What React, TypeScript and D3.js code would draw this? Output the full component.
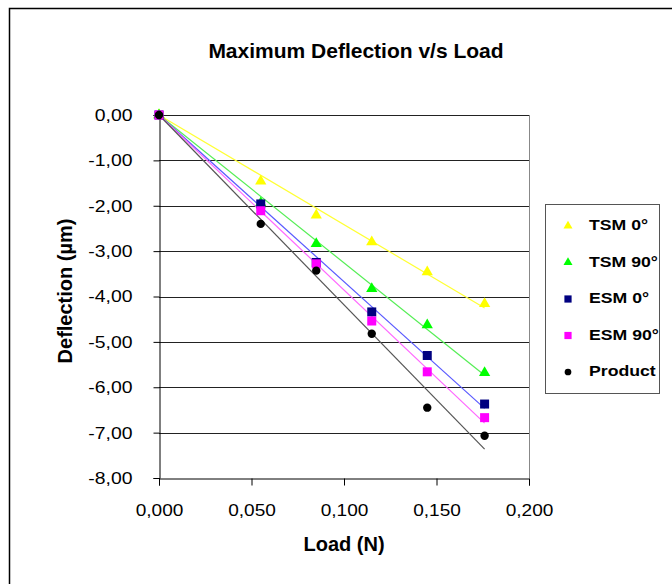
import React, { useEffect, useRef } from 'react'
import * as d3 from 'd3'

// loads (N) at which deflection was measured
const loads = [0, 0.055, 0.085, 0.115, 0.145, 0.176]

// deflection readings (µm) per specimen
const tsm0 = [0, -1.46, -2.21, -2.8, -3.46, -4.16]
const tsm90 = [0, -1.94, -2.84, -3.83, -4.63, -5.68]
const esm0 = [0, -1.96, -3.25, -4.34, -5.3, -6.37]
const esm90 = [0, -2.11, -3.28, -4.54, -5.66, -6.67]
const product = [0, -2.4, -3.43, -4.82, -6.45, -7.07]

const seriesNames = ['TSM 0°', 'TSM 90°', 'ESM 0°', 'ESM 90°', 'Product']
const xTicks = [0, 0.05, 0.1, 0.15, 0.2]
const yTicks = [0, -1, -2, -3, -4, -5, -6, -7, -8]

const FONT = 'Arial, "Liberation Sans", sans-serif'

// the original's text is a bit wider than Arial, stretch glyphs to match
function stretch(sel: any, k: number) {
  sel.each(function (this: SVGTextElement) {
    const w = this.getComputedTextLength()
    d3.select(this).attr('textLength', w * k).attr('lengthAdjust', 'spacingAndGlyphs')
  })
}

export default function App() {
  const svgRef = useRef<SVGSVGElement>(null)

  useEffect(() => {
    const svg = d3.select(svgRef.current)
    svg.selectAll('*').remove()

    const series = [
      { name: seriesNames[0], values: tsm0, fill: '#ffff00', line: '#ffff33', shape: 'tri' },
      { name: seriesNames[1], values: tsm90, fill: '#00ff00', line: '#55ee55', shape: 'tri' },
      { name: seriesNames[2], values: esm0, fill: '#000080', line: '#5a5aff', shape: 'sq' },
      { name: seriesNames[3], values: esm90, fill: '#ff00ff', line: '#ff66ff', shape: 'sq' },
      { name: seriesNames[4], values: product, fill: '#000000', line: '#555555', shape: 'dot' },
    ]

    // outer chart border (only top/left visible in frame)
    svg.append('rect')
      .attr('x', 9.5).attr('y', 8.5)
      .attr('width', 720).attr('height', 640)
      .attr('fill', 'white').attr('stroke', '#000').attr('stroke-width', 1.5)

    const x = d3.scaleLinear().domain([0, 0.2]).range([159, 529])
    const y = d3.scaleLinear().domain([0, -8]).range([115, 478])

    // gridlines
    svg.append('g').selectAll('line')
      .data(yTicks.slice(0, -1))
      .join('line')
      .attr('x1', x(0)).attr('x2', x(0.2))
      .attr('y1', d => Math.round(y(d)) + 0.5).attr('y2', d => Math.round(y(d)) + 0.5)
      .attr('stroke', '#222')

    // right border of plot area
    svg.append('line')
      .attr('x1', x(0.2) + 0.5).attr('x2', x(0.2) + 0.5)
      .attr('y1', y(0)).attr('y2', y(-8))
      .attr('stroke', '#888')

    const yAxis = d3.axisLeft(y)
      .tickValues(yTicks)
      .tickSize(6)
      .tickPadding(21)
      .tickFormat(d => d3.format('.2f')(d as number).replace('.', ',').replace('−', '-'))
    const gy = svg.append('g').attr('transform', `translate(${x(0) + 0.5},0)`).call(yAxis)
    gy.select('.domain').attr('stroke', '#000')
    gy.selectAll('text').attr('font-size', 17).attr('font-family', FONT).attr('fill', '#000')
    stretch(gy.selectAll('text'), 1.14)

    const xAxis = d3.axisBottom(x)
      .tickValues(xTicks)
      .tickSize(7)
      .tickPadding(18)
      .tickFormat(d => d3.format('.3f')(d as number).replace('.', ','))
    const gx = svg.append('g').attr('transform', `translate(0,${Math.round(y(-8)) + 0.5})`).call(xAxis)
    gx.select('.domain').attr('stroke', '#000')
    gx.selectAll('text').attr('font-size', 17).attr('font-family', FONT).attr('fill', '#000')
    stretch(gx.selectAll('text'), 1.12)

    // trend lines: least squares through origin
    const xMax = d3.max(loads) as number
    series.forEach(s => {
      const slope = d3.sum(loads, (l, i) => l * s.values[i]) / d3.sum(loads, l => l * l)
      svg.append('line')
        .attr('x1', x(0)).attr('y1', y(0))
        .attr('x2', x(xMax)).attr('y2', y(slope * xMax))
        .attr('stroke', s.line).attr('stroke-width', 1.2)
    })

    const drawMarker = (g: any, shape: string, fill: string, cx: number, cy: number, k = 1) => {
      if (shape === 'tri') {
        const tri = d3.symbol().type(d3.symbolTriangle).size(55 * k * k)
        g.append('path').attr('d', tri()).attr('transform', `translate(${cx},${cy})`).attr('fill', fill)
      } else if (shape === 'sq') {
        const s = 9 * k
        g.append('rect').attr('x', cx - s / 2).attr('y', cy - s / 2).attr('width', s).attr('height', s)
          .attr('fill', fill)
      } else {
        g.append('circle').attr('cx', cx).attr('cy', cy).attr('r', 4.2 * k).attr('fill', fill)
      }
    }

    const marks = svg.append('g')
    series.forEach(s => {
      s.values.forEach((v, i) => drawMarker(marks, s.shape, s.fill, x(loads[i]), y(v)))
    })

    // title & axis titles
    svg.append('text')
      .attr('x', 356).attr('y', 58)
      .attr('text-anchor', 'middle').attr('font-family', FONT)
      .attr('font-size', 21).attr('font-weight', 'bold')
      .text('Maximum Deflection v/s Load')

    svg.append('text')
      .attr('x', 344).attr('y', 551)
      .attr('text-anchor', 'middle').attr('font-family', FONT)
      .attr('font-size', 20).attr('font-weight', 'bold')
      .text('Load (N)')

    svg.append('text')
      .attr('transform', 'translate(72,291) rotate(-90)')
      .attr('text-anchor', 'middle').attr('font-family', FONT)
      .attr('font-size', 20).attr('font-weight', 'bold')
      .text('Deflection (µm)')

    // legend
    const lg = svg.append('g')
    lg.append('rect')
      .attr('x', 545.5).attr('y', 204.5).attr('width', 114).attr('height', 189)
      .attr('fill', 'white').attr('stroke', '#555')
    series.forEach((s, i) => {
      const cy = 226 + i * 36.5
      drawMarker(lg, s.shape, s.fill, 568, cy, 0.8)
      lg.append('text')
        .attr('x', 589).attr('y', cy + 4)
        .attr('font-family', FONT).attr('font-size', 15.5).attr('font-weight', 'bold')
        .text(s.name)
    })
    stretch(lg.selectAll('text'), 1.14)
  }, [])

  return (
    <svg
      ref={svgRef}
      width={672}
      height={584}
      style={{ position: 'absolute', left: 0, top: 0, display: 'block', background: 'white' }}
    />
  )
}
